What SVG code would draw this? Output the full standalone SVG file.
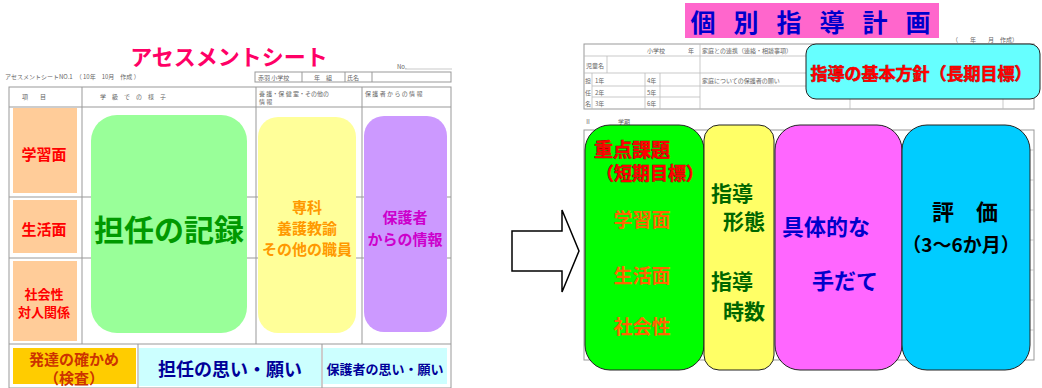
<svg xmlns="http://www.w3.org/2000/svg" width="1042" height="388" viewBox="0 0 1042 388">
<style>
text{font-family:"Noto Sans CJK JP","Noto Sans",sans-serif;font-weight:bold;text-anchor:middle;dominant-baseline:central}
.tiny{font-size:6px;font-weight:normal;fill:#666;text-anchor:start}
.tl{stroke:#999;stroke-width:1;fill:none}
.tl2{stroke:#bbb;stroke-width:0.8;fill:none}
.rb{stroke:#222;stroke-width:1}
.ol{stroke-width:0.6;paint-order:stroke}
</style>
<rect width="1042" height="388" fill="#fff"/>

<!-- LEFT: assessment sheet -->
<g id="left-sheet">
<text x="229" y="55" font-size="22" fill="#ff0066">アセスメントシート</text>
<text class="tiny" x="397" y="66">No.</text>
<line class="tl2" x1="405" y1="69" x2="452" y2="69"/>
<text class="tiny" x="5" y="76">アセスメントシートNO.1　（ 10年　10月　作成 ）</text>
<rect class="tl" x="255" y="72" width="196" height="10"/>
<line class="tl" x1="302" y1="72" x2="302" y2="82"/>
<line class="tl" x1="345" y1="72" x2="345" y2="82"/>
<line class="tl" x1="372" y1="72" x2="372" y2="82"/>
<text class="tiny" x="258" y="77">赤羽 小学校</text>
<text class="tiny" x="314" y="77">年　組</text>
<text class="tiny" x="347" y="77">氏名</text>
<rect class="tl" x="9" y="87" width="442" height="301"/>
<line class="tl" x1="9" y1="107" x2="451" y2="107"/>
<line class="tl" x1="82" y1="87" x2="82" y2="344"/>
<line class="tl" x1="256" y1="87" x2="256" y2="344"/>
<line class="tl" x1="362" y1="87" x2="362" y2="344"/>
<line class="tl" x1="9" y1="197" x2="451" y2="197"/>
<line class="tl" x1="9" y1="258" x2="451" y2="258"/>
<line class="tl" x1="9" y1="344" x2="451" y2="344"/>
<line class="tl" x1="138" y1="344" x2="138" y2="388"/>
<line class="tl" x1="322" y1="344" x2="322" y2="388"/>
<text class="tiny" x="22" y="96">項　　目</text>
<text class="tiny" x="100" y="96">学　級　で　の　様　子</text>
<text class="tiny" x="259" y="93">養 護・保 健 室・その他の</text>
<text class="tiny" x="259" y="101">情 報</text>
<text class="tiny" x="365" y="93">保 護 者 か ら の 情 報</text>
</g>

<g id="row-gakushu">
<rect x="13" y="108" width="64" height="85" fill="#ffcc99"/>
<text x="44" y="153" font-size="15" fill="#ff0000">学習面</text>
</g>
<g id="row-seikatsu">
<rect x="13" y="200" width="64" height="53" fill="#ffcc99"/>
<text x="44" y="228" font-size="15" fill="#ff0000">生活面</text>
</g>
<g id="row-shakai">
<rect x="13" y="261" width="64" height="80" fill="#ffcc99"/>
<text x="44" y="293" font-size="13" fill="#ff0000">社会性</text>
<text x="44" y="311" font-size="13" fill="#ff0000">対人関係</text>
</g>
<g id="tannin-kiroku">
<rect x="91" y="115" width="156" height="218" rx="26" fill="#99ff99"/>
<text x="169" y="228" font-size="30" fill="#009900">担任の記録</text>
</g>
<g id="senka">
<rect x="258" y="117" width="98" height="216" rx="20" fill="#ffff99"/>
<text x="307" y="206" font-size="15" fill="#ff9900">専科</text>
<text x="307" y="227" font-size="15" fill="#ff9900">養護教諭</text>
<text x="307" y="248" font-size="15" fill="#ff9900">その他の職員</text>
</g>
<g id="hogosha-info">
<rect x="364" y="116" width="83" height="216" rx="20" fill="#cc99ff"/>
<text x="405" y="216" font-size="15" fill="#cc00cc">保護者</text>
<text x="405" y="238" font-size="15" fill="#cc00cc">からの情報</text>
</g>
<g id="hattatsu">
<rect x="13" y="348" width="123" height="36" fill="#ffcc00"/>
<text x="74" y="358" font-size="15" fill="#cc3300">発達の確かめ</text>
<text x="74" y="377" font-size="15" fill="#cc3300">（検査）</text>
</g>
<g id="tannin-omoi">
<rect x="139" y="348" width="182" height="38" fill="#ccffff"/>
<text x="230" y="368" font-size="18" fill="#000099">担任の思い・願い</text>
</g>
<g id="hogosha-omoi">
<rect x="323" y="348" width="124" height="36" fill="#ccffff"/>
<text x="385" y="368" font-size="13" fill="#000099">保護者の思い・願い</text>
</g>

<!-- connector -->
<g id="connectors">
<polygon points="512,231 562,231 562,210 579,251 562,292 562,271 512,271" fill="#fff" stroke="#000" stroke-width="1.5"/>
</g>

<!-- RIGHT: individual plan -->
<g id="title-plan">
<rect x="685" y="3" width="254" height="35" fill="#ff66cc"/>
<text x="703" y="21" font-size="25" fill="#0000cc">個</text>
<text x="746" y="21" font-size="25" fill="#0000cc">別</text>
<text x="789" y="21" font-size="25" fill="#0000cc">指</text>
<text x="832" y="21" font-size="25" fill="#0000cc">導</text>
<text x="875" y="21" font-size="25" fill="#0000cc">計</text>
<text x="918" y="21" font-size="25" fill="#0000cc">画</text>
</g>
<g id="right-sheet">
<text class="tiny" x="952" y="39">（　　年　　月　作成）</text>
<rect class="tl" x="584" y="44" width="450" height="65"/>
<line class="tl2" x1="584" y1="56" x2="806" y2="56"/>
<line class="tl2" x1="584" y1="73" x2="806" y2="73"/>
<line class="tl2" x1="592" y1="86" x2="700" y2="86"/>
<line class="tl2" x1="592" y1="97" x2="700" y2="97"/>
<line class="tl2" x1="700" y1="86" x2="806" y2="86"/>
<line class="tl2" x1="700" y1="44" x2="700" y2="109"/>
<line class="tl2" x1="607" y1="56" x2="607" y2="73"/>
<line class="tl2" x1="592" y1="73" x2="592" y2="109"/>
<line class="tl2" x1="645" y1="73" x2="645" y2="109"/>
<line class="tl2" x1="660" y1="73" x2="660" y2="109"/>
<line class="tl2" x1="850" y1="99" x2="850" y2="109"/>
<line class="tl2" x1="1003" y1="99" x2="1003" y2="109"/>
<text class="tiny" x="647" y="50" font-size="5">小学校</text>
<text class="tiny" x="688" y="50" font-size="5">年</text>
<text class="tiny" x="702" y="50" font-size="5">家庭との連携（連絡・相談事項）</text>
<text class="tiny" x="586" y="65" font-size="5">児童名</text>
<text class="tiny" x="585" y="80" font-size="5">担</text>
<text class="tiny" x="585" y="92" font-size="5">任</text>
<text class="tiny" x="585" y="103" font-size="5">名</text>
<text class="tiny" x="595" y="80" font-size="5">1年</text>
<text class="tiny" x="595" y="92" font-size="5">2年</text>
<text class="tiny" x="595" y="103" font-size="5">3年</text>
<text class="tiny" x="647" y="80" font-size="5">4年</text>
<text class="tiny" x="647" y="92" font-size="5">5年</text>
<text class="tiny" x="647" y="103" font-size="5">6年</text>
<text class="tiny" x="702" y="80" font-size="5">家庭についての保護者の願い</text>
<text class="tiny" x="585" y="121" font-size="8" fill="#333">Ⅱ</text>
<text class="tiny" x="618" y="121" font-size="5">学期</text>
<rect class="tl" x="584" y="130" width="450" height="230"/>
<line class="tl2" x1="1020" y1="150" x2="1034" y2="150"/>
<line class="tl2" x1="1020" y1="180" x2="1034" y2="180"/>
<line class="tl2" x1="1020" y1="210" x2="1034" y2="210"/>
<line class="tl2" x1="1020" y1="240" x2="1034" y2="240"/>
<line class="tl2" x1="1020" y1="270" x2="1034" y2="270"/>
<line class="tl2" x1="1020" y1="300" x2="1034" y2="300"/>
<line class="tl2" x1="1020" y1="330" x2="1034" y2="330"/>
</g>
<g id="kihon-houshin">
<rect x="806" y="44" width="234" height="55" rx="10" fill="#66ffff" class="rb"/>
<text x="921" y="72" font-size="17" fill="#ff0000" stroke="#880000" class="ol">指導の基本方針（長期目標）</text>
</g>
<g id="juten-kadai">
<rect x="585" y="125" width="119" height="245" rx="25" fill="#00ff00" class="rb"/>
<text x="632" y="148" font-size="19" fill="#ff0000" stroke="#880000" class="ol">重点課題</text>
<text x="650" y="172" font-size="18" fill="#ff0000" stroke="#880000" class="ol">（短期目標）</text>
<text x="642" y="218" font-size="19" fill="#ff6600">学習面</text>
<text x="642" y="274" font-size="19" fill="#ff6600">生活面</text>
<text x="642" y="325" font-size="19" fill="#ff6600">社会性</text>
</g>
<g id="shido">
<rect x="704" y="125" width="70" height="245" rx="15" fill="#ffff66" class="rb"/>
<text x="732" y="192" font-size="21" fill="#006600">指導</text>
<text x="744" y="220" font-size="21" fill="#006600">形態</text>
<text x="732" y="280" font-size="21" fill="#006600">指導</text>
<text x="744" y="310" font-size="21" fill="#006600">時数</text>
</g>
<g id="tedate">
<rect x="775" y="125" width="127" height="245" rx="25" fill="#ff66ff" class="rb"/>
<text x="826" y="225" font-size="22" fill="#0000cc">具体的な</text>
<text x="845" y="279" font-size="22" fill="#0000cc">手だて</text>
</g>
<g id="hyoka">
<rect x="902" y="125" width="128" height="245" rx="25" fill="#00ccff" class="rb"/>
<text x="965" y="210" font-size="22" fill="#000">評　価</text>
<text x="961" y="243" font-size="19" fill="#000" font-weight="500">（3～6か月）</text>
</g>
</svg>
